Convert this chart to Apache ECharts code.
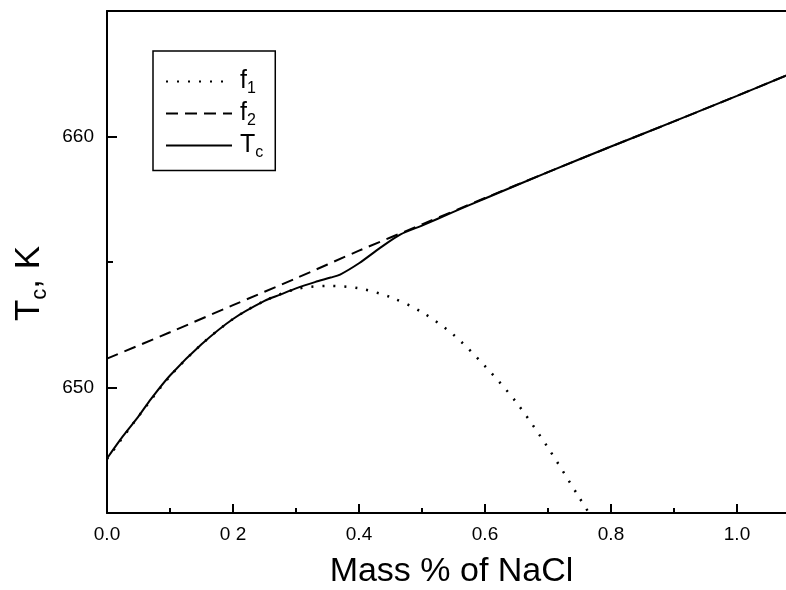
<!DOCTYPE html>
<html><head><meta charset="utf-8">
<script src="https://cdn.jsdelivr.net/npm/echarts@6/dist/echarts.min.js"></script>
<style>html,body{margin:0;padding:0;background:#fff}#c{width:786px;height:590px}</style>
</head><body><div id="c"></div>
<script>
// ---- data ----
const f1X = [0, 0.05, 0.10, 0.15, 0.20, 0.25, 0.30, 0.35, 0.40, 0.45, 0.50, 0.55, 0.60, 0.65, 0.70, 0.75, 0.765];
const f1Y = [647.15, 648.85, 650.45, 651.72, 652.73, 653.45, 653.92, 654.05, 653.95, 653.6, 653.0, 652.1, 650.85, 649.4, 647.6, 645.6, 645.0];

const f2X = [0, 0.1, 0.2, 0.3, 0.4, 0.5, 0.6, 0.7, 0.8, 0.9, 1.0, 1.08];
const f2Y = [651.15, 652.2, 653.28, 654.35, 655.45, 656.5, 657.55, 658.58, 659.6, 660.6, 661.62, 662.45];

const tcX = [0, 0.025, 0.05, 0.07, 0.10, 0.15, 0.20, 0.25, 0.275, 0.30, 0.33, 0.355, 0.37, 0.40, 0.434, 0.466, 0.50, 0.55, 0.60, 0.7, 0.8, 0.9, 1.0, 1.08];
const tcY = [647.17, 648.05, 648.85, 649.55, 650.48, 651.72, 652.73, 653.45, 653.7, 653.95, 654.2, 654.38, 654.5, 654.95, 655.57, 656.1, 656.45, 657.0, 657.53, 658.58, 659.6, 660.6, 661.62, 662.45];

const seriesNames = ['f1', 'f2', 'Tc'];
const legendLabels = {'f1': '{m|f}{s|1}', 'f2': '{m|f}{s|2}', 'Tc': '{m|T}{s|c}'};
const xTickValues = [0, 0.2, 0.4, 0.6, 0.8, 1.0];
const xTickLabels = ['0.0', '0 2', '0.4', '0.6', '0.8', '1.0'];
const yTickValues = [650, 660];
const yTickLabels = ['650', '660'];
const yMinorTicks = [655];
const xTitle = 'Mass % of NaCl';

function pairs(xs, ys) { return xs.map((x, i) => [x, ys[i]]); }
function lookup(vals, labels, v) {
  for (let i = 0; i < vals.length; i++) if (Math.abs(vals[i] - v) < 1e-6) return labels[i];
  return '';
}

const FONT = 'Arial, "Liberation Sans", sans-serif';
const chart = echarts.init(document.getElementById('c'), null, {renderer: 'canvas'});
chart.setOption({
  animation: false,
  backgroundColor: '#fff',
  grid: {left: 107, top: 11, width: 756, bottom: 77, containLabel: false, outerBoundsMode: 'none'},
  legend: {
    data: seriesNames,
    orient: 'vertical',
    left: 153, top: 51,
    padding: [18, 12, 10, 12],
    itemGap: 4.5,
    itemWidth: 66, itemHeight: 14,
    borderColor: '#000', borderWidth: 1.5,
    itemStyle: {color: 'rgba(0,0,0,0)', borderColor: 'rgba(0,0,0,0)', borderWidth: 0},
    formatter: n => legendLabels[n],
    textStyle: {
      color: '#000', fontFamily: FONT, padding: [0, 0, 0, 3],
      rich: {
        m: {fontSize: 25, lineHeight: 30, fontFamily: FONT, color: '#000'},
        s: {fontSize: 16, lineHeight: 2, verticalAlign: 'bottom', fontFamily: FONT, color: '#000'}
      }
    }
  },
  xAxis: [{
    type: 'value', position: 'bottom', min: 0, max: 1.2, interval: 0.2,
    name: xTitle, nameLocation: 'middle', nameGap: 42,
    nameTextStyle: {fontSize: 34, color: '#000', fontFamily: FONT, padding: [0, 67, 0, 0]},
    axisLine: {show: true, onZero: false, lineStyle: {color: '#000', width: 2}},
    axisTick: {show: true, inside: true, length: 9, lineStyle: {color: '#000', width: 2}},
    minorTick: {show: true, splitNumber: 2, length: 5, lineStyle: {color: '#000', width: 2}},
    axisLabel: {show: true, margin: 12, fontSize: 19, color: '#000', fontFamily: FONT,
      formatter: v => lookup(xTickValues, xTickLabels, v)},
    splitLine: {show: false}, minorSplitLine: {show: false}
  }, {
    type: 'value', position: 'top', min: 0, max: 1.2,
    axisLine: {show: true, onZero: false, lineStyle: {color: '#000', width: 2}},
    axisTick: {show: false}, axisLabel: {show: false}, splitLine: {show: false}
  }],
  yAxis: [{
    type: 'value', position: 'left', min: 645, max: 665, interval: 5,
    name: '{a|T}{b|c}{a|, K}', nameLocation: 'middle', nameRotate: 90, nameGap: 51,
    nameTextStyle: {
      color: '#000', fontFamily: FONT, padding: [0, 43, 0, 0],
      rich: {
        a: {fontSize: 35, lineHeight: 44, fontFamily: FONT, color: '#000'},
        b: {fontSize: 22, lineHeight: 12, verticalAlign: 'bottom', fontFamily: FONT, color: '#000'}
      }
    },
    axisLine: {show: true, onZero: false, lineStyle: {color: '#000', width: 2}},
    axisTick: {show: true, inside: true, length: 10, customValues: yTickValues, lineStyle: {color: '#000', width: 2}},
    axisLabel: {show: true, margin: 13, fontSize: 19, color: '#000', fontFamily: FONT,
      customValues: yTickValues, formatter: v => lookup(yTickValues, yTickLabels, v)},
    splitLine: {show: false}
  }, {
    type: 'value', position: 'right', offset: -756, min: 645, max: 665, interval: 5,
    axisLine: {show: false, onZero: false},
    axisTick: {show: true, inside: false, length: 6, customValues: yMinorTicks, lineStyle: {color: '#000', width: 2}},
    axisLabel: {show: false}, splitLine: {show: false}
  }],
  series: [{
    name: seriesNames[0], type: 'line', data: pairs(f1X, f1Y), smooth: 0.3,
    symbol: 'none', clip: true,
    lineStyle: {color: '#000', width: 2.5, type: [2, 9]}, itemStyle: {color: '#000'}
  }, {
    name: seriesNames[1], type: 'line', data: pairs(f2X, f2Y), smooth: 0.3,
    symbol: 'none', clip: true,
    lineStyle: {color: '#000', width: 2, type: [12, 7]}, itemStyle: {color: '#000'}
  }, {
    name: seriesNames[2], type: 'line', data: pairs(tcX, tcY), smooth: 0.3,
    symbol: 'none', clip: true,
    lineStyle: {color: '#000', width: 2, type: 'solid'}, itemStyle: {color: '#000'}
  }]
});
</script>
</body></html>
